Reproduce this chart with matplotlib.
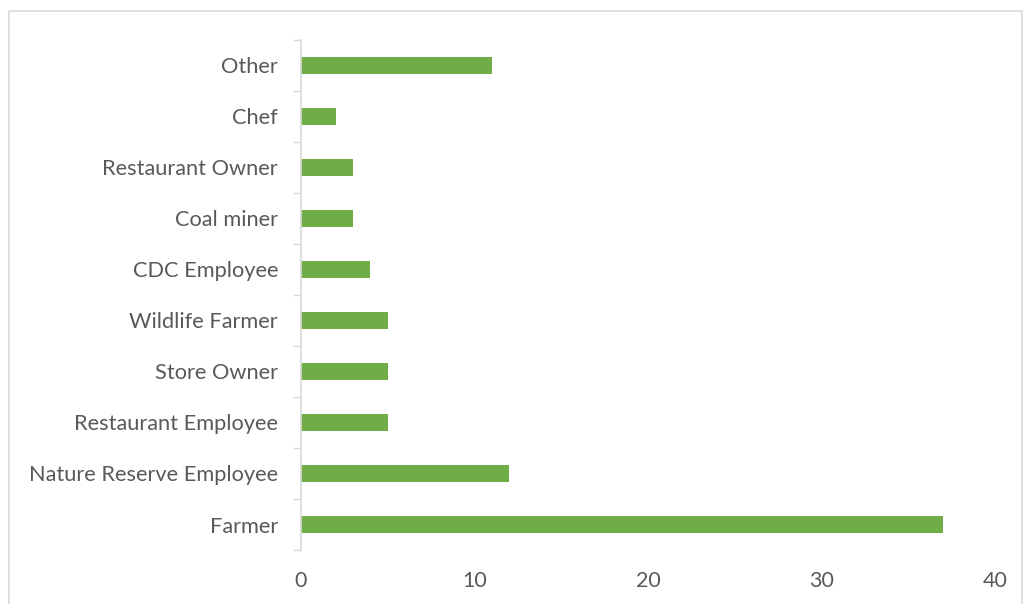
import matplotlib.pyplot as plt
from matplotlib.patches import Rectangle

# Respondent occupations (bottom to top)
occupations = ["Farmer", "Nature Reserve Employee", "Restaurant Employee",
               "Store Owner", "Wildlife Farmer", "CDC Employee", "Coal miner",
               "Restaurant Owner", "Chef", "Other"]
counts = [37, 12, 5, 5, 5, 4, 3, 3, 2, 11]
xticks = [0, 10, 20, 30, 40]

plt.rcParams["font.family"] = ["Lato", "DejaVu Sans"]
text_col = "#595959"
line_col = "#d9d9d9"

fig = plt.figure(figsize=(10.23, 6.04), dpi=100)
ax = fig.add_axes([0.2942, 0.0894, 0.6784, 0.8444])

ypos = list(range(len(occupations)))
ax.barh(ypos, counts, height=0.33, color="#70ad47")

ax.set_xlim(0, 40)
ax.set_ylim(-0.5, len(occupations) - 0.5)
ax.set_xticks(xticks)
ax.set_xticklabels([str(t) for t in xticks])
ax.set_yticks(ypos)
ax.set_yticklabels(occupations)
ax.set_yticks([i - 0.5 for i in range(len(occupations) + 1)], minor=True)

ax.tick_params(axis="y", which="major", length=0, pad=16.5,
               labelsize=15.7, labelcolor=text_col)
ax.tick_params(axis="y", which="minor", length=5.5, width=1, color=line_col)
ax.tick_params(axis="x", length=0, pad=15, labelsize=15.5, labelcolor=text_col)

for side in ["top", "right", "bottom"]:
    ax.spines[side].set_visible(False)
ax.spines["left"].set_color(line_col)
ax.spines["left"].set_linewidth(1.2)

# chart area border
fig.patches.append(Rectangle((9 / 1023, -0.05), 1013 / 1023, 1.05 - 11 / 604,
                             transform=fig.transFigure, fill=False,
                             edgecolor=line_col, linewidth=1.2))

fig.savefig("out.png", dpi=100)
